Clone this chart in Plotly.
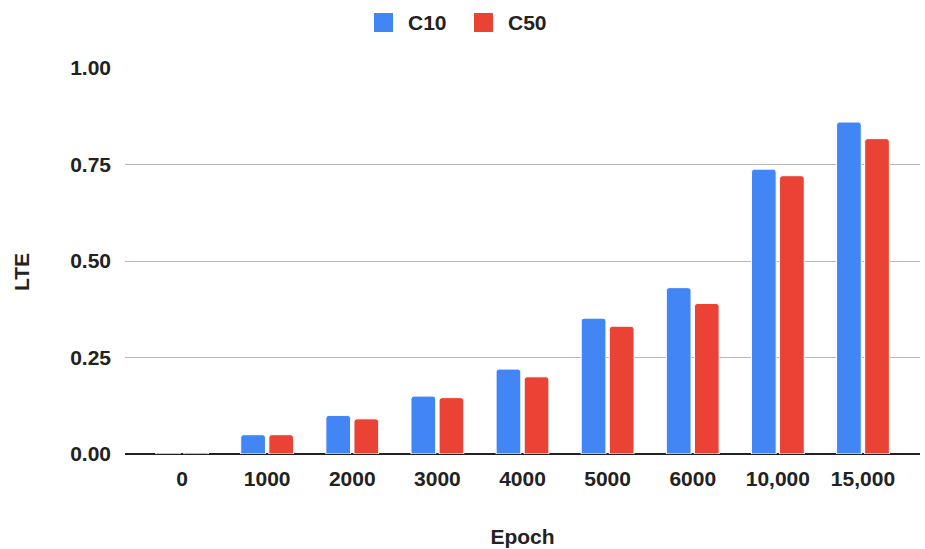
import plotly.graph_objects as go

epochs = ["0", "1000", "2000", "3000", "4000", "5000", "6000", "10,000", "15,000"]
c10 = [0.004, 0.050, 0.100, 0.150, 0.220, 0.352, 0.431, 0.738, 0.860]
c50 = [0.004, 0.050, 0.091, 0.146, 0.200, 0.331, 0.390, 0.721, 0.817]
series_names = ["C10", "C50"]
series_colors = ["#4285f4", "#ea4335"]
y_ticks = [0, 0.25, 0.5, 0.75, 1.0]
y_tick_text = ["0.00", "0.25", "0.50", "0.75", "1.00"]

font_family = "Liberation Sans, Arial, sans-serif"
txt = "#222222"
bold = dict(family=font_family, size=21, color=txt, weight="bold")

fig = go.Figure()
for name, vals, col in zip(series_names, [c10, c50], series_colors):
    fig.add_trace(go.Bar(name=name, x=epochs, y=vals,
                         marker=dict(color=col, line=dict(color="white", width=1)),
                         showlegend=False))

W, H = 925, 549
ml, mr, mt, mb = 125, 5, 68, 95
pw, ph = W - ml - mr, H - mt - mb
def px(x):
    return (x - ml) / pw
def py(y):
    return (H - mb - y) / ph

# Manual legend (top centre)
legend_x = [374, 474]
for lx, name, col in zip(legend_x, series_names, series_colors):
    fig.add_shape(type="rect", xref="paper", yref="paper",
                  x0=px(lx), x1=px(lx + 19), y0=py(32), y1=py(13),
                  fillcolor=col, line=dict(width=0))
    fig.add_annotation(xref="paper", yref="paper", x=px(lx + 32), y=py(22.5),
                       text=name, showarrow=False, xanchor="left", yanchor="middle",
                       font=bold)

# Y axis title
fig.add_annotation(xref="paper", yref="paper", x=px(21), y=py(272),
                   text="LTE", showarrow=False, textangle=-90,
                   xanchor="center", yanchor="middle", font=bold)

fig.update_layout(
    width=W, height=H,
    margin=dict(l=ml, r=mr, t=mt, b=mb, autoexpand=False),
    paper_bgcolor="white", plot_bgcolor="white",
    barmode="group", bargap=0.34, bargroupgap=0.12, barcornerradius=3,
    font=dict(family=font_family, size=21, color=txt),
    showlegend=False,
    xaxis=dict(type="category", range=[-0.67, 8.67], showgrid=False,
               tickfont=bold, ticks="", ticklabelstandoff=10,
               title=dict(text="Epoch", font=bold, standoff=40),
               automargin=False, showline=False),
    yaxis=dict(range=[0, 1.0], tickvals=y_ticks, ticktext=y_tick_text,
               showgrid=True, gridcolor="#b7b7b7", gridwidth=1,
               zeroline=True, zerolinecolor="#222222", zerolinewidth=2,
               tickfont=bold, ticks="", ticklabelstandoff=13,
               automargin=False, showline=False),
)

fig.write_html("out.html")
